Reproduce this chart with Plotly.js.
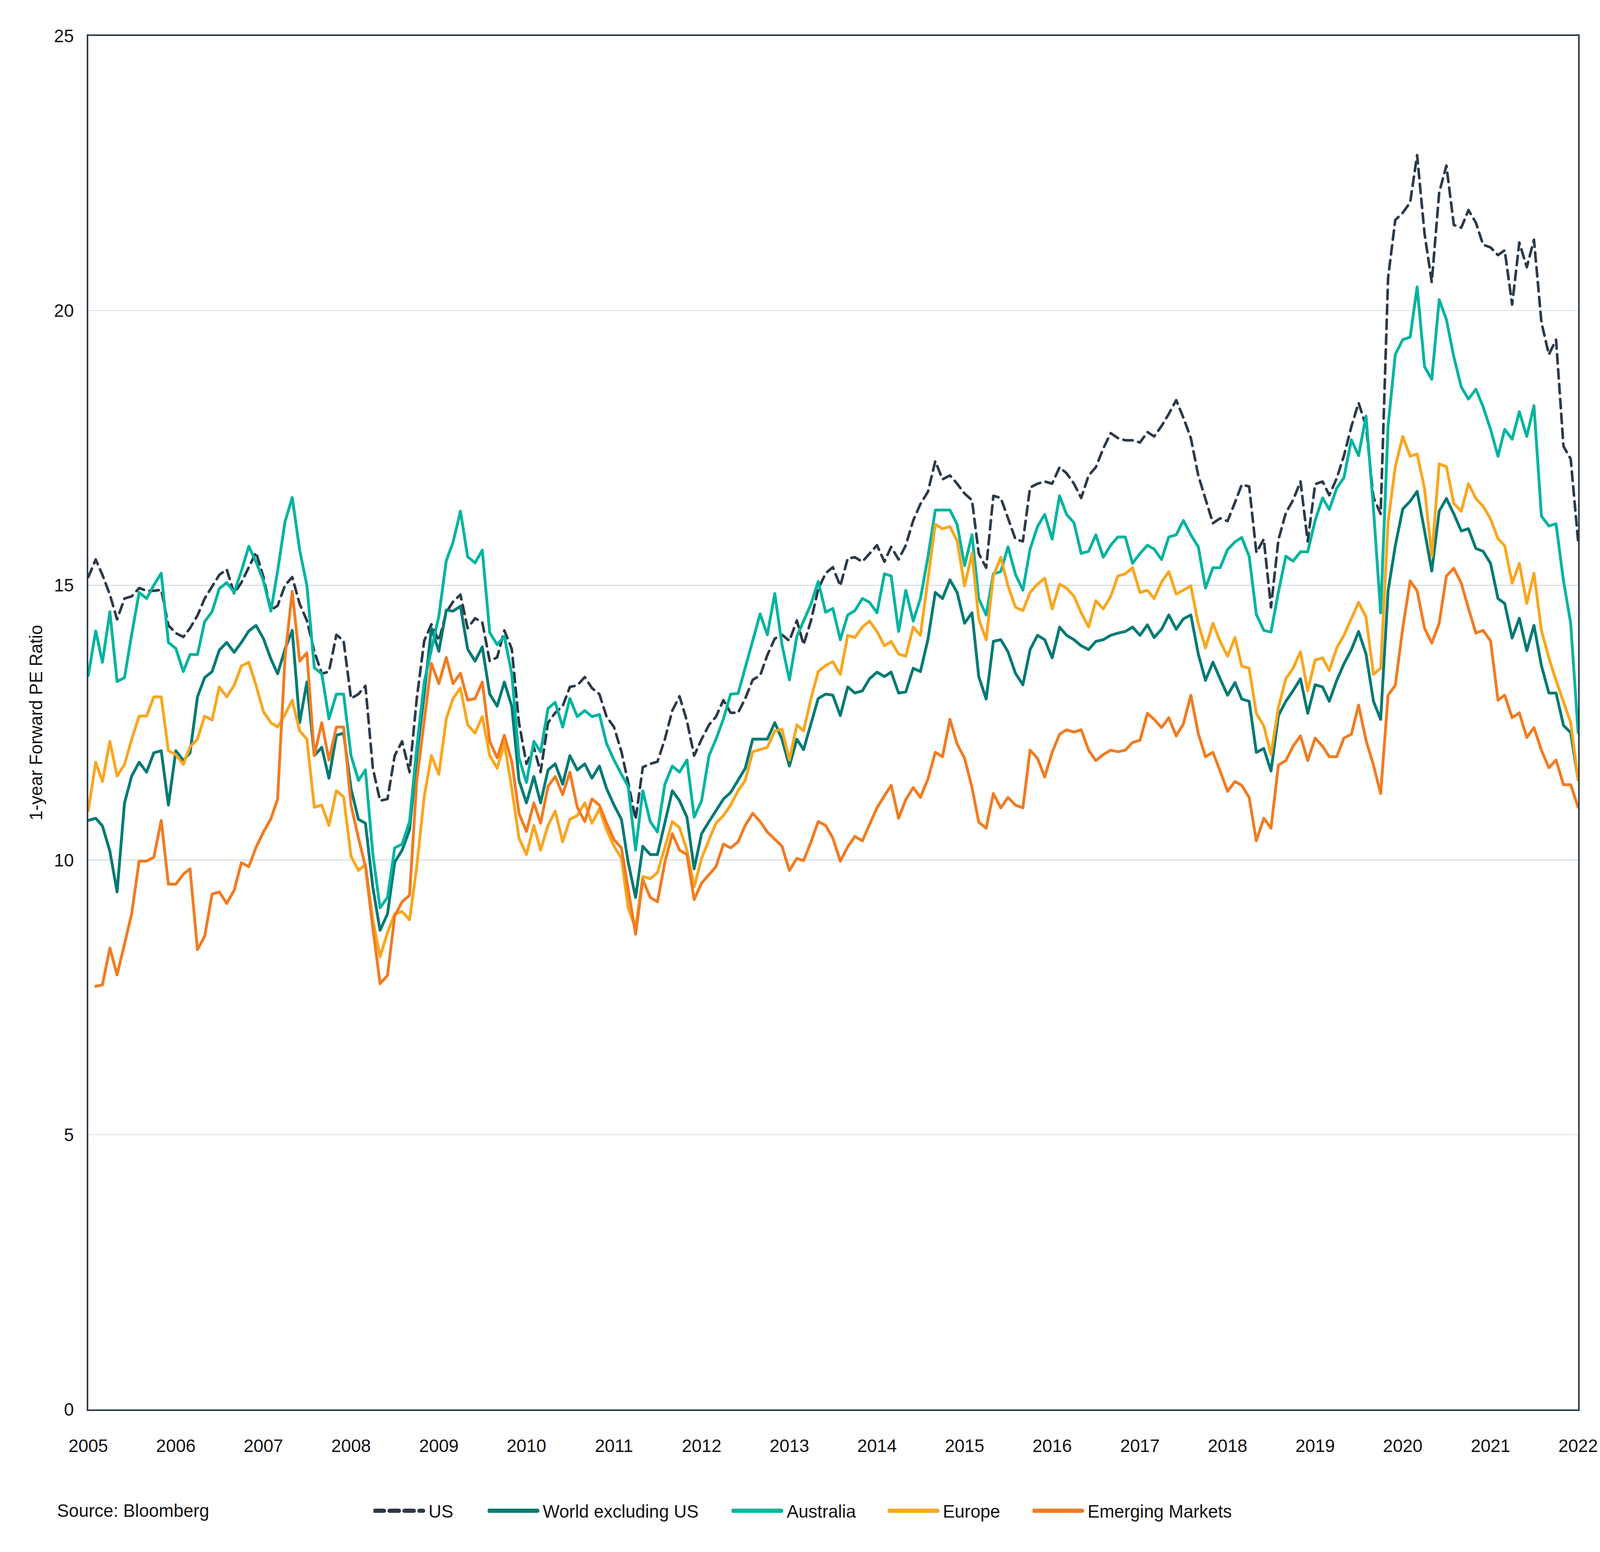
<!DOCTYPE html>
<html>
<head>
<meta charset="utf-8">
<script src="https://cdn.plot.ly/plotly-3.0.1.min.js"></script>
<style>
  html, body { margin: 0; padding: 0; background: #fff; overflow: hidden; }
  #chart { position: absolute; left: 0; top: 0; }
</style>
</head>
<body>
<div id="chart"></div>
<script>
// Monthly observations, Jan 2005 .. Jan 2022 (205 months)
const startYear = 2005;
const monthCount = 205;
const months = [];
for (let i = 0; i < monthCount; i++) {
  const y = startYear + Math.floor(i / 12);
  const m = (i % 12) + 1;
  months.push(y + '-' + String(m).padStart(2, '0') + '-01');
}

const seriesNames = ['US', 'World excluding US', 'Australia', 'Europe', 'Emerging Markets'];

const usPE = [
15.15,15.47,15.19,14.83,14.38,14.76,14.8,14.95,14.9,14.9,14.92,14.27,
14.13,14.06,14.22,14.45,14.76,14.97,15.19,15.29,14.85,15.05,15.33,15.6,
15.15,14.55,14.63,15.0,15.15,14.66,14.36,13.8,13.39,13.43,14.1,13.99,
12.94,13.02,13.17,11.67,11.08,11.11,11.9,12.16,11.6,12.94,13.99,14.29,
13.99,14.51,14.7,14.83,14.22,14.4,14.33,13.62,13.69,14.18,13.84,12.5,
11.75,12.05,11.6,12.5,12.68,12.8,13.15,13.18,13.33,13.13,13.02,12.61,
12.42,11.97,11.41,10.74,11.69,11.75,11.79,12.2,12.72,12.98,12.53,11.9,
12.2,12.46,12.61,12.91,12.68,12.68,12.94,13.28,13.36,13.73,14.03,14.1,
13.99,14.36,13.92,14.36,14.93,15.22,15.33,14.99,15.49,15.51,15.43,15.57,
15.73,15.43,15.7,15.47,15.73,16.18,16.48,16.7,17.26,16.93,17.0,16.85,
16.67,16.55,15.58,15.32,16.63,16.59,16.22,15.84,15.8,16.78,16.85,16.89,
16.85,17.15,17.04,16.85,16.59,17.0,17.15,17.49,17.77,17.68,17.64,17.64,
17.6,17.79,17.71,17.9,18.12,18.37,18.05,17.68,17.0,16.57,16.13,16.22,
16.17,16.51,16.83,16.8,15.6,15.84,14.6,15.83,16.32,16.55,16.89,15.8,
16.84,16.89,16.64,16.95,17.36,17.89,18.32,17.9,16.6,16.3,20.6,21.65,
21.78,21.97,22.83,21.4,20.52,22.15,22.64,21.56,21.51,21.83,21.6,21.2,
21.15,21.01,21.1,20.11,21.24,20.79,21.29,19.79,19.2,19.47,17.53,17.3,
15.8
];

const worldExUsPE = [
10.72,10.76,10.62,10.16,9.42,11.04,11.53,11.78,11.6,11.95,11.99,11.0,
11.99,11.81,11.95,12.97,13.32,13.43,13.82,13.96,13.78,13.96,14.17,14.27,
14.03,13.66,13.39,13.84,14.18,12.5,13.24,11.9,12.05,11.49,12.27,12.31,
11.3,10.74,10.67,9.5,8.72,9.02,9.96,10.18,10.55,11.9,13.02,14.22,
13.8,14.55,14.53,14.62,13.84,13.62,13.88,13.02,12.8,13.24,12.8,11.45,
11.04,11.52,11.04,11.64,11.75,11.38,11.9,11.64,11.75,11.49,11.71,11.3,
11.0,10.74,9.96,9.32,10.25,10.1,10.1,10.7,11.26,11.08,10.78,9.84,
10.48,10.7,10.89,11.11,11.23,11.45,11.67,12.2,12.2,12.2,12.5,12.2,
11.71,12.2,12.01,12.5,12.94,13.02,13.0,12.63,13.15,13.04,13.08,13.3,
13.42,13.34,13.42,13.04,13.06,13.49,13.43,14.01,14.87,14.76,15.1,14.87,
14.31,14.5,13.34,12.93,13.98,14.01,13.79,13.4,13.19,13.83,14.09,14.01,
13.68,14.24,14.09,14.01,13.9,13.83,13.98,14.01,14.09,14.13,14.16,14.24,
14.09,14.28,14.05,14.2,14.46,14.2,14.39,14.46,13.75,13.27,13.6,13.3,
13.0,13.23,12.93,12.89,11.96,12.03,11.62,12.63,12.89,13.08,13.3,12.67,
13.19,13.15,12.89,13.27,13.57,13.83,14.16,13.75,12.89,12.56,14.9,15.72,
16.39,16.53,16.71,15.99,15.26,16.35,16.58,16.3,15.99,16.03,15.67,15.62,
15.4,14.76,14.67,14.04,14.4,13.81,14.27,13.54,13.04,13.04,12.45,12.32,
11.46
];

const australiaPE = [
13.36,14.17,13.6,14.52,13.25,13.32,14.11,14.87,14.76,15.0,15.22,13.96,
13.85,13.43,13.74,13.74,14.34,14.52,14.94,15.05,14.87,15.26,15.71,15.43,
15.08,14.53,15.26,16.16,16.6,15.64,15.0,13.5,13.39,12.57,13.02,13.02,
11.9,11.45,11.64,10.1,9.13,9.32,10.22,10.29,10.7,12.05,13.24,13.84,
14.44,15.45,15.78,16.35,15.52,15.41,15.64,14.14,13.92,14.07,13.39,11.86,
11.41,12.16,11.97,12.76,12.87,12.42,12.94,12.61,12.72,12.61,12.65,12.12,
11.82,11.56,11.34,10.18,11.26,10.7,10.51,11.38,11.71,11.6,11.82,10.78,
11.08,11.9,12.2,12.57,13.02,13.03,13.51,13.99,14.48,14.1,14.85,13.92,
13.28,14.07,14.36,14.66,15.07,14.51,14.58,14.01,14.46,14.54,14.76,14.69,
14.5,15.21,15.17,14.16,14.91,14.35,14.76,15.51,16.37,16.37,16.37,16.11,
15.36,15.92,14.76,14.46,15.21,15.25,15.7,15.2,14.91,15.66,16.07,16.29,
15.84,16.63,16.29,16.14,15.58,15.62,15.92,15.51,15.73,15.88,15.88,15.4,
15.58,15.73,15.66,15.47,15.88,15.92,16.18,15.92,15.7,14.95,15.32,15.32,
15.65,15.79,15.87,15.53,14.47,14.18,14.15,14.88,15.53,15.44,15.61,15.61,
16.18,16.59,16.38,16.77,16.96,17.65,17.36,18.08,16.4,14.5,17.9,19.2,
19.47,19.52,20.43,18.98,18.75,20.2,19.84,19.16,18.61,18.39,18.57,18.25,
17.84,17.35,17.84,17.66,18.16,17.71,18.27,16.26,16.08,16.12,15.08,14.31,
12.32
];

const europePE = [
10.9,11.78,11.43,12.16,11.53,11.74,12.2,12.62,12.62,12.97,12.97,11.99,
11.92,11.74,12.06,12.2,12.62,12.55,13.15,12.97,13.18,13.53,13.6,13.18,
12.7,12.5,12.42,12.65,12.91,12.35,12.2,10.96,11.0,10.63,11.26,11.15,
10.07,9.81,9.92,8.91,8.24,8.68,9.02,9.06,8.91,9.88,11.15,11.9,
11.56,12.57,12.94,13.13,12.46,12.31,12.61,11.9,11.67,12.12,11.3,10.4,
10.1,10.63,10.18,10.63,10.89,10.33,10.74,10.81,11.04,10.67,10.93,10.55,
10.25,10.03,9.13,8.75,9.7,9.66,9.77,10.25,10.7,10.59,10.18,9.51,
10.03,10.37,10.67,10.81,11.0,11.26,11.45,11.97,12.01,12.05,12.35,12.38,
11.82,12.46,12.35,12.94,13.43,13.54,13.61,13.38,14.09,14.05,14.24,14.35,
14.16,13.9,13.98,13.75,13.71,14.24,14.09,15.06,16.11,16.03,16.07,15.81,
14.99,15.58,14.39,14.01,15.17,15.51,14.99,14.6,14.54,14.87,15.02,15.13,
14.57,15.02,14.95,14.8,14.5,14.24,14.72,14.57,14.8,15.17,15.21,15.32,
14.87,14.91,14.76,15.06,15.25,14.84,14.91,14.99,14.3,13.86,14.31,13.98,
13.71,14.05,13.53,13.49,12.67,12.44,11.92,12.78,13.3,13.49,13.79,13.08,
13.64,13.68,13.45,13.86,14.09,14.39,14.69,14.42,13.38,13.49,16.15,17.16,
17.71,17.35,17.39,16.76,15.53,17.21,17.16,16.49,16.35,16.85,16.58,16.44,
16.21,15.85,15.72,15.04,15.4,14.67,15.22,14.18,13.68,13.27,12.86,12.5,
11.46
];

const emergingPE = [
null,7.7,7.73,8.4,7.91,8.47,9.03,9.98,9.98,10.05,10.72,9.56,
9.56,9.74,9.84,8.37,8.61,9.38,9.42,9.21,9.45,9.95,9.88,10.23,
10.51,10.75,11.11,13.7,14.89,13.62,13.77,11.9,12.5,11.82,12.42,12.42,
11.0,10.4,9.88,8.76,7.75,7.9,8.98,9.24,9.36,11.45,12.5,13.58,
13.21,13.69,13.21,13.4,12.91,12.94,13.24,12.16,11.86,12.27,11.79,10.85,
10.52,11.04,10.67,11.34,11.52,11.19,11.6,10.96,10.7,11.11,11.0,10.67,
10.37,10.22,9.47,8.65,9.64,9.32,9.24,9.96,10.48,10.18,10.1,9.28,
9.58,9.73,9.88,10.29,10.22,10.33,10.63,10.85,10.7,10.51,10.37,10.25,
9.81,10.03,9.99,10.33,10.7,10.63,10.4,9.98,10.24,10.43,10.35,10.65,
10.95,11.17,11.36,10.76,11.1,11.32,11.14,11.47,11.96,11.88,12.56,12.11,
11.85,11.32,10.69,10.58,11.21,10.95,11.14,11.0,10.95,12.0,11.85,11.51,
11.96,12.29,12.37,12.33,12.37,12.0,11.81,11.92,12.0,11.97,12.0,12.14,
12.18,12.67,12.56,12.41,12.59,12.26,12.48,13.0,12.3,11.88,11.96,11.62,
11.25,11.43,11.36,11.14,10.35,10.76,10.58,11.73,11.81,12.07,12.26,11.81,
12.22,12.07,11.88,11.88,12.22,12.29,12.82,12.18,11.73,11.21,13.0,13.18,
14.22,15.08,14.9,14.22,13.95,14.31,15.17,15.31,15.04,14.58,14.13,14.18,
13.99,12.91,13.0,12.59,12.68,12.23,12.41,12.0,11.68,11.82,11.37,11.37,
10.96
];

const yTickValues = [0, 5, 10, 15, 20, 25];

const seriesValues = [usPE, worldExUsPE, australiaPE, europePE, emergingPE];
const seriesColors = ['#2B3A4A', '#017A74', '#00B4A0', '#F9A61E', '#F27B21'];
const legendIds = ['legend', 'legend2', 'legend3', 'legend4', 'legend5'];
const legendX = [0.1914, 0.2681, 0.4318, 0.5366, 0.6338];

// ---- sizing: design is 6751 x 3973, scaled to the actual viewport ----
const W = window.innerWidth || 6751;
const H = window.innerHeight || 3973;
const sx = W / 6751;
const sy = H / 3973;
const s = Math.min(sx, sy);
const el = document.getElementById('chart');
el.style.width = W + 'px';
el.style.height = H + 'px';

const css = document.createElement('style');
css.textContent =
  '.scatterlayer .js-line { stroke-linejoin: round; stroke-linecap: round; }' +
  '.legendlines path { stroke-width: ' + (18 * s) + 'px !important; stroke-linecap: round; }';
document.head.appendChild(css);

const traces = seriesNames.map((name, i) => ({
  type: 'scatter',
  mode: 'lines',
  name: name,
  x: months,
  y: seriesValues[i],
  connectgaps: false,
  legend: legendIds[i],
  line: {
    color: seriesColors[i],
    width: (i === 0 ? 11 : 12) * s,
    dash: i === 0 ? (39 * s) + 'px,' + (24 * s) + 'px' : 'solid'
  },
  hoverinfo: 'skip'
}));

const fontFamily = '"Liberation Sans", Arial, Helvetica, sans-serif';
const axisColor = '#2B3A47';
const fs = 75 * s;

const layout = {
  width: W,
  height: H,
  margin: { l: 373 * sx, r: 92 * sx, t: 92 * sy, b: 365 * sy, pad: 0 },
  paper_bgcolor: '#ffffff',
  plot_bgcolor: '#ffffff',
  font: { family: fontFamily, size: fs, color: '#111111' },
  showlegend: true,
  xaxis: {
    type: 'date',
    range: [months[0], months[months.length - 1]],
    tick0: months[0],
    dtick: 'M12',
    tickformat: '%Y',
    showgrid: false,
    zeroline: false,
    showline: true,
    linecolor: axisColor,
    linewidth: 6 * s,
    mirror: true,
    ticks: 'outside',
    ticklen: Math.max(1, 86 * sy - 58 * s),
    tickcolor: 'rgba(0,0,0,0)',
    tickfont: { size: fs, color: '#111111' },
    automargin: false,
    fixedrange: true
  },
  yaxis: {
    range: [0, 25],
    tickvals: yTickValues,
    showgrid: true,
    gridcolor: '#D6DFE7',
    gridwidth: 4 * s,
    zeroline: false,
    showline: true,
    linecolor: axisColor,
    linewidth: 6 * s,
    mirror: true,
    ticks: 'outside',
    ticklen: 40 * sx,
    tickcolor: 'rgba(0,0,0,0)',
    tickfont: { size: fs, color: '#111111' },
    title: { text: '1-year Forward PE Ratio', font: { size: fs, color: '#111111' }, standoff: 27 * sx },
    automargin: false,
    fixedrange: true
  },
  annotations: [{
    text: 'Source: Bloomberg',
    xref: 'paper', yref: 'paper',
    x: -0.0216, y: -0.0739,
    xanchor: 'left', yanchor: 'middle',
    showarrow: false,
    font: { size: fs, color: '#111111' }
  }]
};

legendIds.forEach((id, i) => {
  layout[id] = {
    x: legendX[i], y: -0.0739,
    xanchor: 'left', yanchor: 'middle',
    orientation: 'h',
    itemwidth: 216 * s,
    bgcolor: 'rgba(0,0,0,0)',
    borderwidth: 0,
    font: { size: fs, color: '#111111' }
  };
});

Plotly.newPlot('chart', traces, layout, { displayModeBar: false, staticPlot: true }).then(gd => {
  // leave a small gap between each legend key and its label, as in the reference
  gd.querySelectorAll('.legendlines path').forEach(p => {
    const d = p.getAttribute('d') || '';
    const m = d.match(/^M([-\d.]+),([-\d.]+)h([-\d.]+)/);
    if (m) {
      const x0 = parseFloat(m[1]) - 3 * s;
      const len = parseFloat(m[3]) - 12 * s;
      p.setAttribute('d', 'M' + x0 + ',' + m[2] + 'h' + len);
    }
  });
});
</script>
</body>
</html>
